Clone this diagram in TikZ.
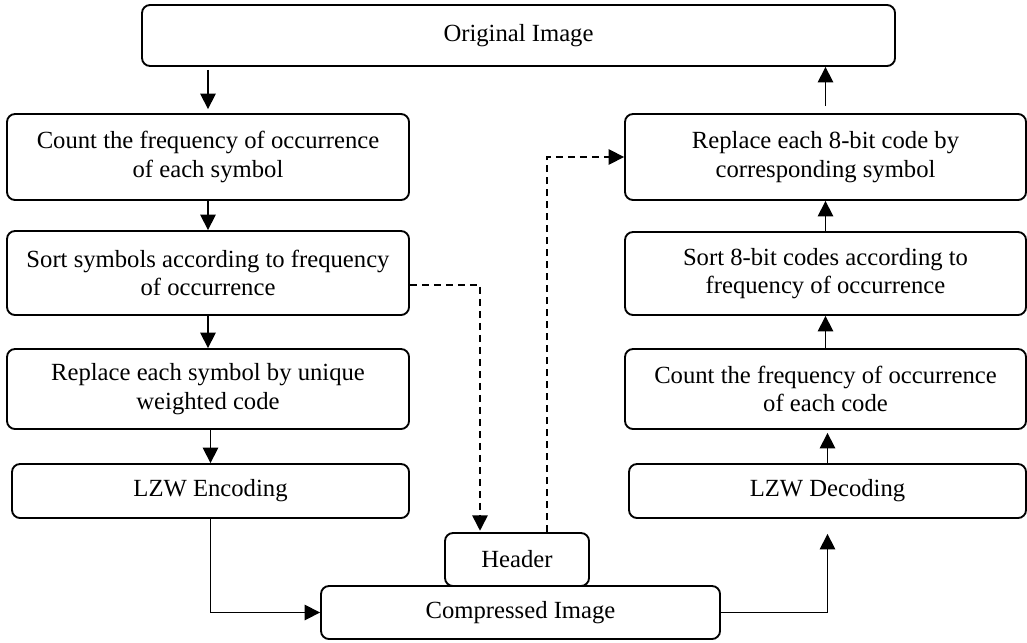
\documentclass[tikz,border=0pt]{standalone}
\usepackage{fontspec}
\setmainfont{Liberation Serif}
\usetikzlibrary{arrows.meta}
\begin{document}
\begin{tikzpicture}[x=0.75pt,y=-0.75pt,
  box/.style={draw, line width=1.4pt, rounded corners=6pt, align=center, inner sep=0pt,
              font=\fontsize{18.5}{21.5}\selectfont, fill=white},
  arr/.style={line width=1.2pt, -{Triangle[length=11.5pt,width=11.5pt]}},
  darr/.style={arr, dash pattern=on 5.25pt off 3.75pt}]
\useasboundingbox (0,0) rectangle (1027,642);

% top
\node[box, minimum width=564.75pt, minimum height=45.75pt] (orig) at (518.5,35.5) {Original Image};

% left column
\node[box, minimum width=301.5pt, minimum height=64.5pt] (cnt) at (208,157)
  {Count the frequency of occurrence\\of each symbol};
\node[box, minimum width=301.5pt, minimum height=63pt] (sort) at (208,273)
  {Sort symbols according to frequency\\of occurrence};
\node[box, minimum width=301.5pt, minimum height=60pt] (rep) at (208,389)
  {Replace each symbol by unique\\weighted code};
\node[box, minimum width=297.75pt, minimum height=40.5pt] (lzwe) at (210.5,491)
  {LZW Encoding};

% right column
\node[box, minimum width=300.75pt, minimum height=64.5pt] (rep8) at (825.5,157)
  {Replace each 8-bit code by\\corresponding symbol};
\node[box, minimum width=300.75pt, minimum height=62.25pt] (sort8) at (825.5,273.5)
  {Sort 8-bit codes according to\\frequency of occurrence};
\node[box, minimum width=300.75pt, minimum height=60pt] (cnt8) at (825.5,389)
  {Count the frequency of occurrence\\of each code};
\node[box, minimum width=297.75pt, minimum height=40.5pt] (lzwd) at (827.5,491)
  {LZW Decoding};

% bottom
\node[box, minimum width=299.25pt, minimum height=39.75pt] (comp) at (520.5,612.5)
  {Compressed Image};
\node[box, minimum width=108pt, minimum height=39.75pt] (header) at (517,559.5)
  {Header};

% encoding flow
\draw[arr, shorten <=2.25pt, shorten >=3pt] (orig.south -| cnt.north) -- (cnt.north);
\draw[arr] (cnt.south) -- (sort.north);
\draw[arr] (sort.south) -- (rep.north);
\draw[arr] (rep.south -| lzwe.north) -- (lzwe.north);
\draw[arr] (lzwe.south) |- (comp.west);

% decoding flow
\draw[arr, shorten >=11.25pt] (comp.east) -| (lzwd.south);
\draw[arr, shorten >=2.25pt] (lzwd.north) -- (lzwd.north |- cnt8.south);
\draw[arr] (cnt8.north) -- (sort8.south);
\draw[arr] (sort8.north) -- (rep8.south);
\draw[arr, shorten <=5.25pt] (rep8.north) -- (rep8.north |- orig.south);

% header links
\draw[darr, shorten >=1pt] ([yshift=-9pt]sort.east) -| ([xshift=-27.75pt]header.north);
\draw[darr] ([xshift=22.5pt]header.north) |- (rep8.west);
\end{tikzpicture}
\end{document}
